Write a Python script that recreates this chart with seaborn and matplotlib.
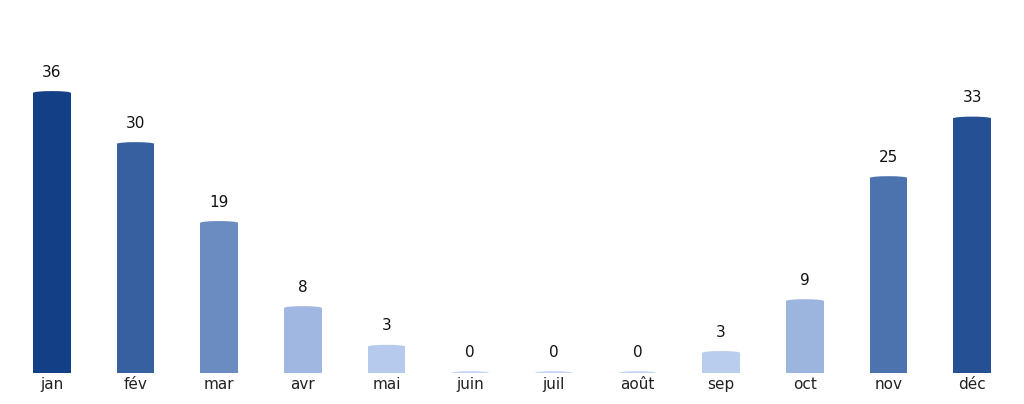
import numpy as np
import pandas as pd
import matplotlib
matplotlib.use("Agg")
import matplotlib.pyplot as plt
from matplotlib.colors import LinearSegmentedColormap, to_hex
from matplotlib.patches import Ellipse
import seaborn as sns

# --- Data ---
months = ["jan", "fév", "mar", "avr", "mai", "juin", "juil", "août", "sep", "oct", "nov", "déc"]
values = [36.2, 29.6, 19.4, 8.4, 3.4, 0.0, 0.0, 0.0, 2.6, 9.3, 25.2, 32.9]

df = pd.DataFrame({"month": months, "value": values})

# colour each bar by its value, light blue -> dark blue
cmap = LinearSegmentedColormap.from_list(
    "blues_custom",
    [(0.0, "#c4d6f4"), (0.25, "#9db6df"), (0.54, "#6a8cc1"), (0.82, "#3760a0"), (1.0, "#123f85")],
)
vmax = max(values)
palette = [to_hex(cmap(v / vmax)) for v in values]

sns.set_style("white")
fig = plt.figure(figsize=(10.24, 4.04), dpi=100)
ax = fig.add_axes([0.0, 0.077, 1.0, 0.923])

sns.barplot(data=df, x="month", y="value", hue="month", palette=palette,
            width=0.45, legend=False, ax=ax, saturation=1, linewidth=0)

# rounded caps + value labels
for bar, val, col in zip(ax.patches[:len(values)], values, palette):
    cx = bar.get_x() + bar.get_width() / 2
    top = bar.get_height()
    ax.add_patch(Ellipse((cx, top), bar.get_width(), 0.45, facecolor=col,
                         edgecolor="none", lw=0, zorder=3))
    ax.annotate(f"{val:.0f}", (cx, top), xytext=(0, 9.5), textcoords="offset points",
                ha="center", va="bottom", fontsize=11, color="#111111")

ax.set_xlim(-0.62, 11.62)
ax.set_ylim(0, 48.2)
ax.set_xlabel("")
ax.set_ylabel("")
ax.set_yticks([])
ax.tick_params(axis="x", length=0, pad=3, labelsize=11, colors="#222222")
sns.despine(ax=ax, left=True, bottom=True)

fig.savefig("out.png", dpi=100)
